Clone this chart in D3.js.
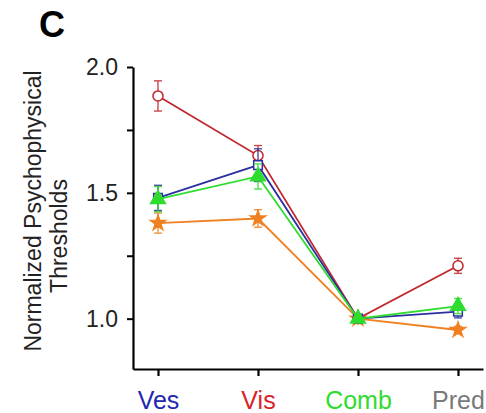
<!DOCTYPE html>
<html>
<head>
<meta charset="utf-8">
<script src="https://cdn.jsdelivr.net/npm/d3@7"></script>
<style>
  html, body { margin: 0; padding: 0; background: #fff; }
  svg { display: block; font-family: "Liberation Sans", Arial, sans-serif; }
</style>
</head>
<body>
<svg id="chart" width="486" height="413"></svg>
<script>
// ---- data ----
const categories = ["Ves", "Vis", "Comb", "Pred"];
const categoryColors = ["#2226b0", "#d8232a", "#2edc2e", "#7a7a7a"];
const yTicks = [1.0, 1.25, 1.5, 1.75, 2.0];

const redValues    = [1.885, 1.648, 1.0, 1.21];
const redErrors    = [0.06, 0.04, 0.0, 0.03];
const blueValues   = [1.48, 1.61, 1.0, 1.028];
const blueErrors   = [0.05, 0.065, 0.0, 0.025];
const greenValues  = [1.475, 1.565, 1.0, 1.05];
const greenErrors  = [0.05, 0.05, 0.0, 0.03];
const orangeValues = [1.38, 1.398, 1.0, 0.955];
const orangeErrors = [0.04, 0.035, 0.0, 0.015];

const series = [
  { name: "orange", values: orangeValues, errors: orangeErrors, color: "#f08020", symbol: d3.symbolStar, size: 70, fill: "#f08020" },
  { name: "red", values: redValues, errors: redErrors, color: "#c0272d", symbol: d3.symbolCircle, size: 80, fill: "#fff" },
  { name: "blue", values: blueValues, errors: blueErrors, color: "#2b2fa0", symbol: d3.symbolSquare, size: 75, fill: "#fff" },
  { name: "green", values: greenValues, errors: greenErrors, color: "#2edc2e", symbol: d3.symbolTriangle, size: 95, fill: "#2edc2e" }
];

// ---- layout ----
const svg = d3.select("#chart");
const x = d3.scalePoint().domain(categories).range([133, 483]).padding(0.25);
const y = d3.scaleLinear().domain([0.8, 2.0]).range([369, 67]);

// panel letter
svg.append("text")
  .attr("x", 52).attr("y", 37)
  .attr("text-anchor", "middle")
  .style("font-size", "36px").style("font-weight", "bold")
  .text("C");

// y axis title
svg.append("text")
  .attr("transform", "translate(33,211) rotate(-90)")
  .attr("text-anchor", "middle").attr("dominant-baseline", "central")
  .style("font-size", "23px").attr("fill", "#222")
  .text("Normalized Psychophysical");
svg.append("text")
  .attr("transform", "translate(59,236) rotate(-90)")
  .attr("text-anchor", "middle").attr("dominant-baseline", "central")
  .style("font-size", "23px").attr("fill", "#222")
  .text("Thresholds");

// y axis
const yAxis = svg.append("g")
  .attr("transform", "translate(133,0)")
  .call(d3.axisLeft(y).tickValues(yTicks).tickSize(6).tickSizeOuter(0).tickPadding(9)
    .tickFormat(d => (Math.abs(d * 2 - Math.round(d * 2)) < 1e-9) ? d3.format(".1f")(d) : ""));
yAxis.select(".domain").attr("stroke", "#000").attr("stroke-width", 2.2);
yAxis.selectAll(".tick line").attr("stroke", "#000").attr("stroke-width", 2);
yAxis.selectAll(".tick text").style("font-size", "23px").attr("fill", "#222")
  .style("font-family", "'Liberation Sans', Arial, sans-serif");

// x axis
const xAxis = svg.append("g")
  .attr("transform", "translate(0,369)")
  .call(d3.axisBottom(x).tickSize(7).tickSizeOuter(0).tickPadding(15));
xAxis.select(".domain").attr("stroke", "#000").attr("stroke-width", 2.2);
xAxis.selectAll(".tick line").attr("stroke", "#000").attr("stroke-width", 2.2);
xAxis.selectAll(".tick text").style("font-size", "25px")
  .style("font-family", "'Liberation Sans', Arial, sans-serif")
  .attr("fill", (d, i) => categoryColors[i]);

// series
const line = d3.line().x((d, i) => x(categories[i])).y(d => y(d));

series.forEach(s => {
  const g = svg.append("g");
  g.append("path")
    .attr("d", line(s.values))
    .attr("fill", "none")
    .attr("stroke", s.color)
    .attr("stroke-width", 1.8);

  // error bars
  s.values.forEach((v, i) => {
    const e = s.errors[i];
    if (e <= 0) return;
    const cx = x(categories[i]);
    const eg = g.append("g").attr("stroke", s.color).attr("stroke-width", 1.4).attr("opacity", 0.85);
    eg.append("line").attr("x1", cx).attr("x2", cx).attr("y1", y(v - e)).attr("y2", y(v + e));
    eg.append("line").attr("x1", cx - 4).attr("x2", cx + 4).attr("y1", y(v + e)).attr("y2", y(v + e));
    eg.append("line").attr("x1", cx - 4).attr("x2", cx + 4).attr("y1", y(v - e)).attr("y2", y(v - e));
  });

  g.selectAll("path.mk")
    .data(s.values)
    .enter().append("path")
    .attr("class", "mk")
    .attr("transform", (d, i) => `translate(${x(categories[i])},${y(d)})`)
    .attr("d", d3.symbol().type(s.symbol).size(s.size))
    .attr("fill", s.fill)
    .attr("stroke", s.color)
    .attr("stroke-width", 1.5);
});
</script>
</body>
</html>
